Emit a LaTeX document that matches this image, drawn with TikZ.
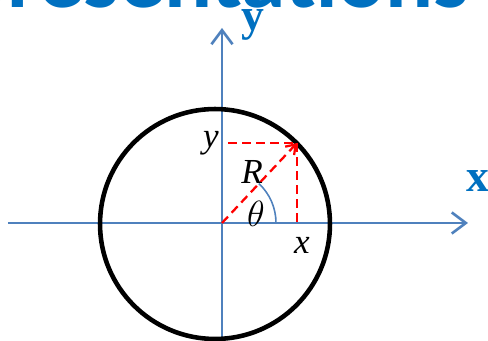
\documentclass[tikz,border=0pt]{standalone}
\usepackage{fontspec}
\setmainfont{Liberation Serif}
\newfontfamily\titlefont{Carlito}
\usetikzlibrary{arrows.meta}
\definecolor{axisblue}{RGB}{79,129,189}
\definecolor{titleblue}{RGB}{0,112,192}
\tikzset{
  axis/.style={draw=axisblue, line width=1.5pt,
    -{Straight Barb[length=8pt, width=12pt, line width=1.5pt]}},
  ring/.style={draw=black, line width=2.6pt},
  proj/.style={draw=red, dashed, line width=1.3pt, dash pattern=on 5pt off 3pt},
  vec/.style={proj, -{Straight Barb[length=5pt, width=7pt, line width=1.3pt]}},
  angarc/.style={draw=axisblue, line width=0.9pt},
  axlbl/.style={text=titleblue, font=\fontsize{26}{28}\selectfont\bfseries, inner sep=0pt},
  sym/.style={font=\fontsize{20}{22}\selectfont\itshape, inner sep=0pt},
  title/.style={text=titleblue, font=\titlefont\fontsize{51}{56}\selectfont\bfseries, inner sep=0pt}
}

\begin{document}
\begin{tikzpicture}[x=0.02cm, y=-0.02cm]
  \useasboundingbox (0,0) rectangle (488,341);
  \clip (0,0) rectangle (488,341);

  % --- title, cut off at the top ---------------------------------------
  \node[title, anchor=base east] (ttl) at (470,8) {Representations};

  % --- axes ------------------------------------------------------------
  \coordinate (O) at (222,223);
  \coordinate (xl) at (8,223);
  \coordinate (xr) at (468,223);
  \coordinate (yb) at (222,345);
  \coordinate (yt) at (222,28);
  \draw[axis] (xl) -- (xr);
  \draw[axis] (yb) -- (yt);
  \node[axlbl] (ylbl) at (253,25) {y};
  \node[axlbl] (xlbl) at (478,181) {x};

  % --- circle ----------------------------------------------------------
  \coordinate (C) at (215,224);
  \draw[ring] (C) circle [radius=2.3cm];

  % --- point and projections -------------------------------------------
  \coordinate (P) at (297,143);
  \coordinate (Py) at (228,143);
  \coordinate (Px) at (297,223);
  \draw[proj] (Py) -- (P);
  \draw[proj] (P) -- (Px);
  \draw[vec] (O) -- (P);
  \draw[angarc] (O) ++(54,0) arc [start angle=0, end angle=47, radius=1.08cm];

  % --- labels ----------------------------------------------------------
  \node[sym] (ylab) at (211,143) {y};
  \node[sym] (rlab) at (252,172) {R};
  \node[sym] (tlab) at (256,214) {$\theta$};
  \node[sym] (xlab) at (302,245) {x};
\end{tikzpicture}
\end{document}
